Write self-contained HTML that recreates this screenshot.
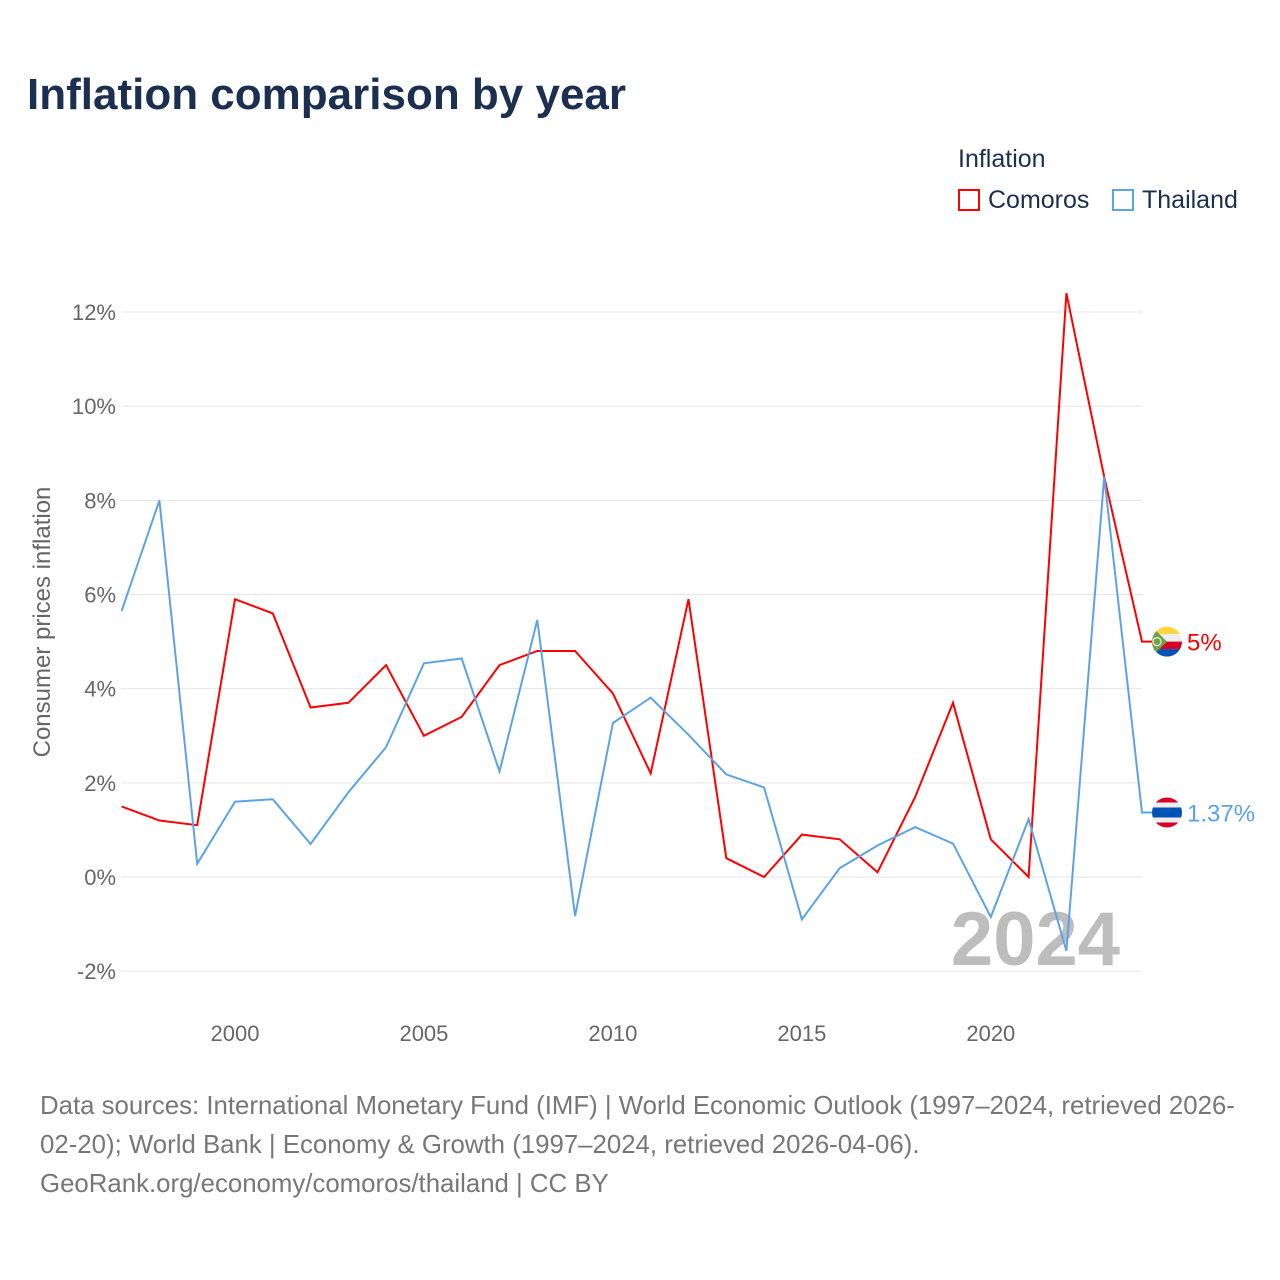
<!DOCTYPE html>
<html><head><meta charset="utf-8">
<style>
body{margin:0;background:#fff;font-family:"Liberation Sans",sans-serif;}
#wrap{position:relative;width:1280px;height:1280px;overflow:hidden;}
.t{position:absolute;white-space:nowrap;}
</style></head>
<body>
<div id="wrap">
<div class="t" style="left:27px;top:70px;font-size:44px;font-weight:bold;color:#1b2f50;">Inflation comparison by year</div>
<div class="t" style="left:958px;top:145px;font-size:25px;color:#1b2f50;">Inflation</div>
<div class="t" style="left:958px;top:186px;font-size:25px;color:#1b2f50;"><span style="display:inline-block;width:22px;height:22px;border:2px solid #f00;box-sizing:border-box;vertical-align:-3px;margin-right:8px;"></span>Comoros</div>
<div class="t" style="left:1112px;top:186px;font-size:25px;color:#1b2f50;"><span style="display:inline-block;width:22px;height:22px;border:2px solid #5ba3e8;box-sizing:border-box;vertical-align:-3px;margin-right:8px;"></span>Thailand</div>
<svg id="chart" width="1280" height="1280" style="position:absolute;left:0;top:0"></svg>
<div class="t" style="left:40px;top:1087px;font-size:25.8px;line-height:39px;color:#777;">Data sources: International Monetary Fund (IMF) | World Economic Outlook (1997–2024, retrieved 2026-<br>02-20); World Bank | Economy &amp; Growth (1997–2024, retrieved 2026-04-06).<br>GeoRank.org/economy/comoros/thailand | CC BY</div>
</div>
<script>
const years=[1997,1998,1999,2000,2001,2002,2003,2004,2005,2006,2007,2008,2009,2010,2011,2012,2013,2014,2015,2016,2017,2018,2019,2020,2021,2022,2023,2024];
const comoros=[1.5,1.2,1.1,5.9,5.6,3.6,3.7,4.5,3.0,3.4,4.5,4.8,4.8,3.9,2.2,5.9,0.4,0.0,0.9,0.8,0.1,1.7,3.7,0.8,0.0,12.4,8.5,5.0];
const thailand=[5.65,8.0,0.28,1.6,1.65,0.7,1.8,2.76,4.54,4.64,2.24,5.46,-0.83,3.27,3.81,3.02,2.18,1.9,-0.9,0.19,0.67,1.06,0.71,-0.85,1.23,-1.57,8.5,1.37];
const yTicks=[-2,0,2,4,6,8,10,12];
const xTicks=[2000,2005,2010,2015,2020];
const NS='http://www.w3.org/2000/svg';
const svg=document.getElementById('chart');
const x=v=>121.6+(v-1997)*(1142-121.6)/27;
const y=v=>877-v*47.08;
function el(tag,attrs,parent){const e=document.createElementNS(NS,tag);for(const k in attrs)e.setAttribute(k,attrs[k]);(parent||svg).appendChild(e);return e;}
yTicks.forEach(t=>{
 const g=el('line',{x1:121,x2:1142,y1:y(t),y2:y(t),stroke:'#e6e6e6','stroke-width':1});
 
 
 const l=el('text',{x:116,y:y(t)+8,'text-anchor':'end','font-size':22,fill:'#666','font-family':'Liberation Sans'});
 l.textContent=t+'%';
 
 
});
xTicks.forEach(t=>{
 const l=el('text',{x:x(t),y:1041,'text-anchor':'middle','font-size':22,fill:'#666','font-family':'Liberation Sans'});
 l.textContent=t;
 
 
});
const yt=el('text',{x:0,y:0,transform:'translate(50,622) rotate(-90)','text-anchor':'middle','font-size':24,fill:'#666','font-family':'Liberation Sans'});
yt.textContent='Consumer prices inflation';


const yr=el('text',{x:1120,y:965,'text-anchor':'end','font-size':76,'font-weight':'bold',fill:'#bdbdbd','font-family':'Liberation Sans'});
yr.textContent='2024';


function series(vals,color,name){
 let d=vals.map((v,i)=>(i?'L':'M')+x(years[i]).toFixed(1)+','+y(v).toFixed(1)).join('');
 const last=vals[vals.length-1];
 d+='L1152,'+y(last).toFixed(1);
 const p=el('path',{d:d,fill:'none',stroke:color,'stroke-width':2});
 
 
 const lb=el('text',{x:1187,y:y(last)+9,'font-size':24,fill:color,'font-family':'Liberation Sans'});
 lb.textContent=(Math.round(last*100)/100)+'%';
 
 
 return y(last);
}
const cy=series(comoros,'#ff0000','comoros');
const ty=series(thailand,'#5ba3e8','thailand');
const defs=el('defs',{});
const c1=el('clipPath',{id:'c1'},defs);el('circle',{cx:1167,cy:cy,r:15},c1);
const c2=el('clipPath',{id:'c2'},defs);el('circle',{cx:1167,cy:ty,r:15},c2);
const fc=el('g',{'clip-path':'url(#c1)'});


['#ffd640','#eeeeee','#d80027','#0052b4'].forEach((c,i)=>el('rect',{x:1152,y:cy-15+i*7.5,width:30,height:7.6,fill:c},fc));
el('polygon',{points:`1152,${cy-15} 1167,${cy} 1152,${cy+15}`,fill:'#6da544'},fc);
el('circle',{cx:1157,cy:cy,r:4,fill:'none',stroke:'#eee','stroke-width':1.2},fc);
const ft=el('g',{'clip-path':'url(#c2)'});


[['#d80027',5],['#eeeeee',5],['#0052b4',10],['#eeeeee',5],['#d80027',5]].reduce((o,[c,h])=>{el('rect',{x:1152,y:ty-15+o,width:30,height:h+0.2,fill:c},ft);return o+h;},0);
</script>
</body></html>
